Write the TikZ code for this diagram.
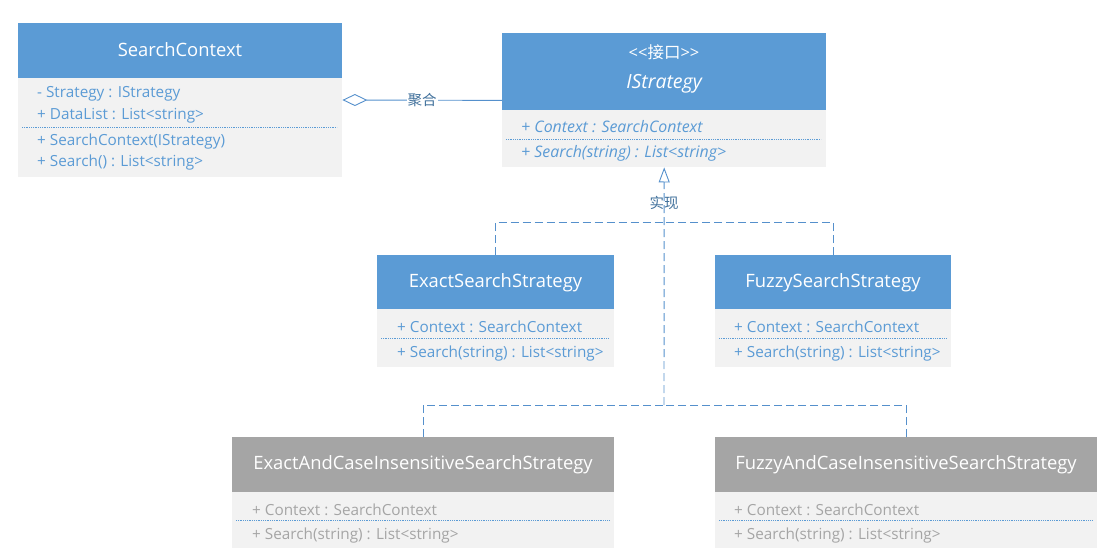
\documentclass[tikz,border=0pt]{standalone}
\usepackage{fontspec}
\setmainfont{Open Sans}
\newfontfamily\cjk{Noto Sans CJK SC}
\usetikzlibrary{arrows.meta,calc}
\definecolor{hblue}{HTML}{5B9BD5}
\definecolor{hgray}{HTML}{A5A5A5}
\definecolor{bgray}{HTML}{F2F2F2}
\definecolor{lineC}{HTML}{5590CC}
\definecolor{lblC}{HTML}{41719C}
\tikzset{
  hdr/.style={rectangle, fill=hblue, draw=none, anchor=north west, inner sep=0pt},
  ghdr/.style={hdr, fill=hgray},
  bodyb/.style={rectangle, fill=bgray, draw=none, anchor=north west, inner sep=0pt},
  ttl/.style={text=white, inner sep=0pt, yshift=-1pt, font=\fontsize{18.4}{20}\selectfont},
  mem/.style={anchor=west, inner sep=0pt, yshift=-1.5pt, text=hblue, font=\fontsize{15.3}{17}\selectfont},
  imem/.style={mem, font=\fontsize{15.9}{17}\selectfont\itshape},
  gmem/.style={mem, text=hgray},
  sepline/.style={draw=hblue, densely dotted, line width=0.8pt},
  dashC/.style={draw=lineC, line width=0.9pt, dash pattern=on 8pt off 4pt},
  aggC/.style={draw=lineC, line width=0.9pt},
  lbl/.style={text=lblC, font=\cjk\fontsize{14.5}{16}\selectfont, inner sep=1pt}
}
\begin{document}
\begin{tikzpicture}[x=1pt,y=-1pt]
\useasboundingbox (0,0) rectangle (1113,559);

% SearchContext
\node[hdr, minimum width=324, minimum height=55] (scH) at (18,23) {};
\node[bodyb, minimum width=324, minimum height=99] (scB) at (18,78) {};
\node[ttl] (scT) at (180,49) {SearchContext};
\node[mem] (scM1) at (37,92) {- Strategy : IStrategy};
\node[mem] (scM2) at (37,114) {+ DataList : List<string>};
\draw[sepline] (22,127) -- (337,127);
\node[mem] (scM3) at (37,140) {+ SearchContext(IStrategy)};
\node[mem] (scM4) at (37,161) {+ Search() : List<string>};

% IStrategy
\node[hdr, minimum width=324, minimum height=77] (isH) at (502,33) {};
\node[bodyb, minimum width=324, minimum height=57] (isB) at (502,110) {};
\node[ttl, font=\fontsize{16.5}{18}\selectfont] (isS) at (664,51) {<\kern0pt<{\cjk 接口}>\kern0pt>};
\node[ttl, font=\fontsize{19.5}{21}\selectfont\itshape] (isT) at (664,83) {IStrategy};
\node[imem] (isM1) at (521,125) {+ Context : SearchContext};
\draw[sepline] (506,139) -- (821,139);
\node[imem] (isM2) at (521,152) {+ Search(string) : List<string>};

% ExactSearchStrategy
\node[hdr, minimum width=237, minimum height=54] (essH) at (377,255) {};
\node[bodyb, minimum width=237, minimum height=58] (essB) at (377,309) {};
\node[ttl] (essT) at (495.5,282) {ExactSearchStrategy};
\node[mem] (essM1) at (397,325) {+ Context : SearchContext};
\draw[sepline] (381,338) -- (609,338);
\node[mem] (essM2) at (397,352) {+ Search(string) : List<string>};

% FuzzySearchStrategy
\node[hdr, minimum width=236, minimum height=54] (fssH) at (715,255) {};
\node[bodyb, minimum width=236, minimum height=58] (fssB) at (715,309) {};
\node[ttl] (fssT) at (833,282) {FuzzySearchStrategy};
\node[mem] (fssM1) at (734,325) {+ Context : SearchContext};
\draw[sepline] (719,338) -- (947,338);
\node[mem] (fssM2) at (734,352) {+ Search(string) : List<string>};

% ExactAndCaseInsensitiveSearchStrategy
\node[ghdr, minimum width=382, minimum height=55] (ecsH) at (232,437) {};
\node[bodyb, minimum width=382, minimum height=56] (ecsB) at (232,492) {};
\node[ttl] (ecsT) at (423,464) {ExactAndCaseInsensitiveSearchStrategy};
\node[gmem] (ecsM1) at (252,508) {+ Context : SearchContext};
\draw[sepline] (236,520) -- (609,520);
\node[gmem] (ecsM2) at (252,534) {+ Search(string) : List<string>};

% FuzzyAndCaseInsensitiveSearchStrategy
\node[ghdr, minimum width=382, minimum height=55] (fcsH) at (715,437) {};
\node[bodyb, minimum width=382, minimum height=56] (fcsB) at (715,492) {};
\node[ttl] (fcsT) at (906,464) {FuzzyAndCaseInsensitiveSearchStrategy};
\node[gmem] (fcsM1) at (734,508) {+ Context : SearchContext};
\draw[sepline] (719,520) -- (1093,520);
\node[gmem] (fcsM2) at (734,534) {+ Search(string) : List<string>};

% aggregation
\draw[aggC, -{Diamond[open, length=25pt, width=12pt, line width=0.9pt]}]
  ($(isH.south west)+(0,-10)$) -- ($(scB.north east)+(0,22)$)
  node[lbl, fill=white, pos=0.5] (aggL) {聚合};

% realization
\coordinate (j1) at (664,222);
\coordinate (j2) at (664,405);
\draw[dashC] (essH.north) |- (j1);
\draw[dashC] (fssH.north) |- (j1);
\draw[dashC] (ecsH.north) |- (j2);
\draw[dashC] (fcsH.north) |- (j2);
\draw[dashC, -{Triangle[open, length=15pt, width=11pt, line width=0.9pt]}]
  (j2) -- (isB.south) node[lbl, pos=0.849] (realL) {实现};
\end{tikzpicture}
\end{document}
